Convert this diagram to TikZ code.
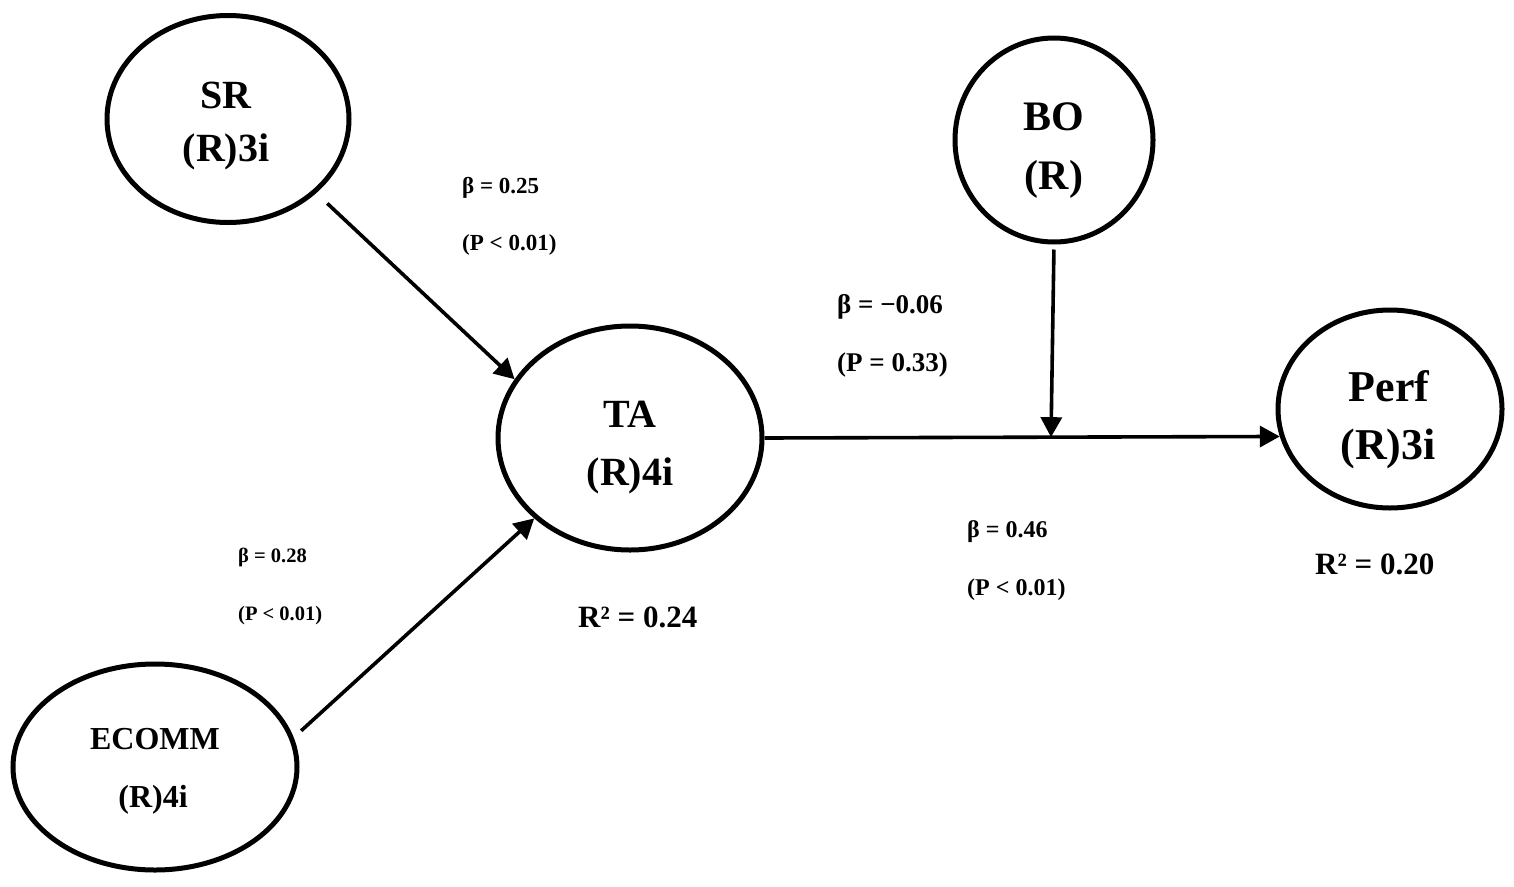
\documentclass[tikz,border=0pt]{standalone}
\usepackage{fontspec}
\setmainfont{Liberation Serif}
\usetikzlibrary{shapes.geometric,arrows.meta,calc}
\begin{document}
\begin{tikzpicture}[x=1pt,y=-1pt,
  latent/.style={ellipse,draw,line width=5pt,inner sep=0pt},
  lbl/.style={anchor=base,inner sep=0pt,font=\bfseries},
  coef/.style={anchor=base west,inner sep=0pt},
  relpath/.style={line width=3.6pt,-{Triangle[length=20pt,width=21pt]}}]
\useasboundingbox[fill=white] (0,0) rectangle (1514,886);
% latent variables
\node[latent,minimum width=242pt,minimum height=207pt] (SR) at (228,119) {};
\node[latent,minimum width=264pt,minimum height=224pt] (TA) at (630,438) {};
\node[latent,minimum width=198pt,minimum height=204pt] (BO) at (1054,140) {};
\node[latent,minimum width=224pt,minimum height=198pt] (Perf) at (1390,409) {};
\node[latent,minimum width=284pt,minimum height=206pt] (ECOMM) at (155,767) {};
% ellipse texts
\node[lbl,font=\bfseries\fontsize{40}{44}\selectfont] (SRa) at (226,108) {SR};
\node[lbl,font=\bfseries\fontsize{40}{44}\selectfont] (SRb) at (226,161) {(R)3i};
\node[lbl,font=\bfseries\fontsize{40}{44}\selectfont] (TAa) at (630,427) {TA};
\node[lbl,font=\bfseries\fontsize{40}{44}\selectfont] (TAb) at (630,485) {(R)4i};
\node[lbl,font=\bfseries\fontsize{42}{46}\selectfont] (BOa) at (1054,130) {BO};
\node[lbl,font=\bfseries\fontsize{42}{46}\selectfont] (BOb) at (1054,189) {(R)};
\node[lbl,font=\bfseries\fontsize{44}{48}\selectfont] (Perfa) at (1389,401) {Perf};
\node[lbl,font=\bfseries\fontsize{44}{48}\selectfont] (Perfb) at (1388,459) {(R)3i};
\node[lbl,font=\bfseries\fontsize{32}{36}\selectfont] (ECa) at (155,749) {ECOMM};
\node[lbl,font=\bfseries\fontsize{32}{36}\selectfont] (ECb) at (153,807) {(R)4i};
% paths
\coordinate (m) at ($(TA.east)!0.556!(Perf.194)$);
\draw[relpath,shorten <=15pt] (SR.-40) -- (TA.153);
\draw[relpath,shorten <=10pt] (ECOMM.12) -- (TA.220);
\draw[relpath] (TA.east) -- (Perf.194);
\draw[relpath,shorten <=5pt] (BO.south) -- (m);
% coefficients
\node[coef,font=\bfseries\fontsize{23}{25}\selectfont] (c1a) at (462,193) {β = 0.25};
\node[coef,font=\bfseries\fontsize{23}{25}\selectfont] (c1b) at (462,250) {(P < 0.01)};
\node[coef,font=\bfseries\fontsize{27}{30}\selectfont] (c2a) at (837,313) {β = −0.06};
\node[coef,font=\bfseries\fontsize{27}{30}\selectfont] (c2b) at (837,371) {(P = 0.33)};
\node[coef,font=\bfseries\fontsize{24}{26}\selectfont] (c3a) at (967,537) {β = 0.46};
\node[coef,font=\bfseries\fontsize{24}{26}\selectfont] (c3b) at (967,595) {(P < 0.01)};
\node[coef,font=\bfseries\fontsize{20.5}{23}\selectfont] (c4a) at (238,562) {β = 0.28};
\node[coef,font=\bfseries\fontsize{20.5}{23}\selectfont] (c4b) at (238,620) {(P < 0.01)};
\node[coef,font=\bfseries\fontsize{31}{34}\selectfont] (r1) at (578,627) {R² = 0.24};
\node[coef,font=\bfseries\fontsize{31}{34}\selectfont] (r2) at (1315,574) {R² = 0.20};
\end{tikzpicture}
\end{document}
